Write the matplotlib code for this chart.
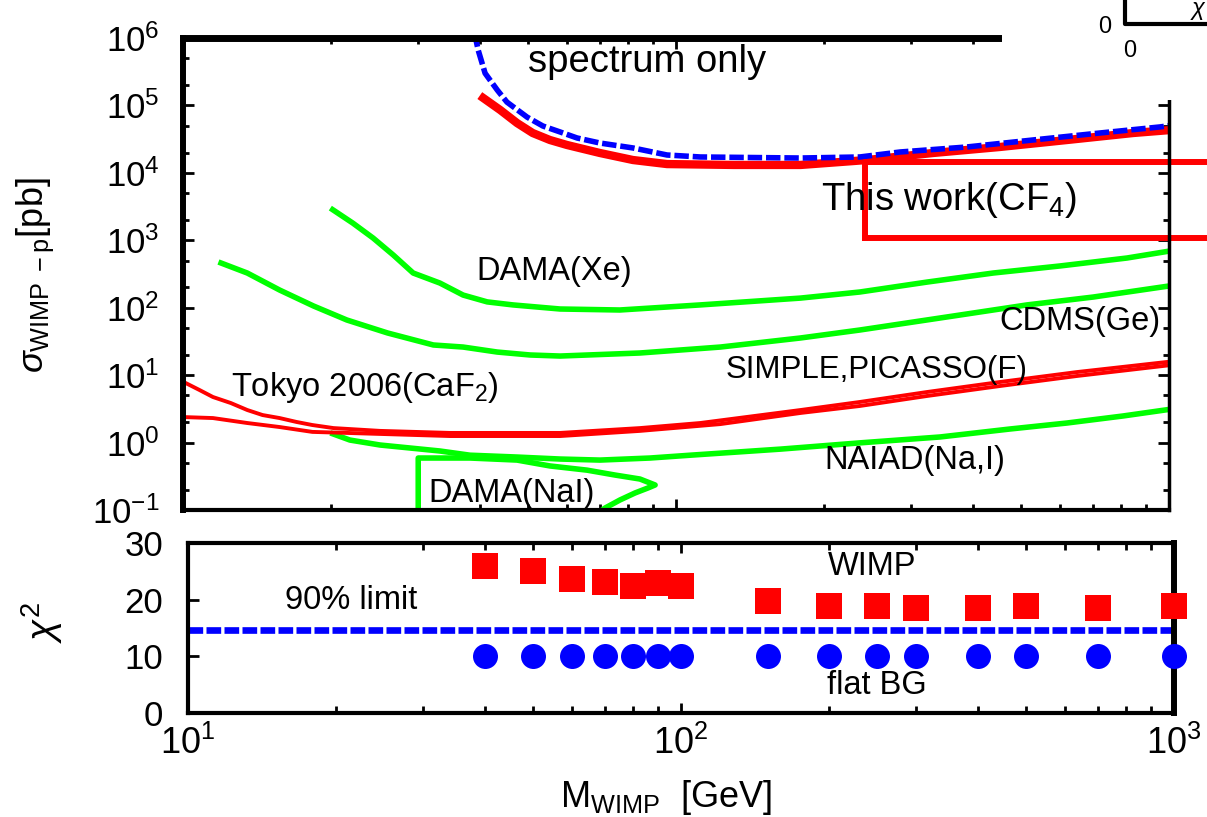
import numpy as np
import matplotlib.pyplot as plt
from matplotlib.patches import Rectangle
from matplotlib.lines import Line2D
from matplotlib.ticker import LogLocator, NullFormatter

plt.rcParams['font.family'] = ['Liberation Sans', 'DejaVu Sans']
plt.rcParams['mathtext.fontset'] = 'custom'
plt.rcParams['mathtext.rm'] = 'Liberation Sans'
plt.rcParams['mathtext.it'] = 'Liberation Sans:italic'
plt.rcParams['mathtext.bf'] = 'Liberation Sans:bold'

# ---- upper panel: cross-section limits (M in GeV, sigma in pb) ----
spec_m = [39.0, 39.7, 41.0, 43.4, 45.4, 49.9, 53.7, 58.2, 63.0, 70.1, 81.8, 95.9,
          112, 179, 236, 285, 389, 529, 724, 959, 1000]
spec_s = [1.2e6, 6.6e5, 3.0e5, 1.69e5, 1.12e5, 6.7e4, 4.95e4, 4.04e4, 3.29e4, 2.77e4,
          2.34e4, 1.84e4, 1.72e4, 1.66e4, 1.72e4, 2.04e4, 2.42e4, 3.07e4, 3.9e4, 4.8e4, 5.0e4]

cf4_m = [40.0, 44.0, 47.6, 51.2, 55.5, 60.1, 70.1, 81.8, 95.9, 131, 179, 244, 332,
         454, 621, 846, 1000]
cf4_s = [1.4e5, 8.55e4, 5.48e4, 3.9e4, 3.07e4, 2.59e4, 1.97e4, 1.55e4, 1.35e4, 1.31e4,
         1.31e4, 1.55e4, 1.97e4, 2.42e4, 3.07e4, 3.9e4, 4.3e4]

xe_m = [19.9, 22.1, 24.3, 26.7, 29.3, 33.2, 37.0, 41.4, 46.7, 58.2, 76.9, 112, 179,
        236, 323, 440, 601, 822, 1000]
xe_s = [3.0e3, 1.8e3, 1.08e3, 605, 327, 232, 154, 122, 110, 95.7, 92.5, 110, 139,
        171, 240, 327, 416, 546, 690]

cdms_m = [11.8, 13.5, 15.7, 18.4, 21.5, 26.0, 32.2, 37.0, 43.4, 50.6, 58.2, 84.5,
          123, 179, 236, 377, 515, 702, 1000]
cdms_s = [476, 327, 183, 106, 65.7, 42.2, 28.0, 26.1, 22.0, 19.9, 19.2, 21.3, 26.1,
          35.6, 46.7, 78, 110, 144, 210]

tokyo_m = [10, 10.8, 11.5, 12.5, 13.5, 14.5, 15.7, 17.0, 18.3, 20.2, 25.1, 34.8,
           58.2, 84.5, 112, 179, 236, 323, 454, 650, 1000]
tokyo_s = [8.0, 6.02, 4.74, 3.86, 3.04, 2.56, 2.31, 2.02, 1.82, 1.64, 1.49, 1.39,
           1.39, 1.64, 1.95, 3.04, 4.0, 5.62, 7.91, 11.1, 15.8]

simple_m = [10, 11.5, 13.5, 15.7, 18.3, 21.5, 34.8, 58.2, 84.5, 123, 179, 236, 323,
            454, 650, 1000]
simple_s = [2.39, 2.31, 1.95, 1.70, 1.44, 1.39, 1.25, 1.25, 1.49, 1.88, 2.75, 3.49,
            4.91, 6.90, 9.71, 14.0]

naiad_m = [19.9, 21.8, 25.1, 28.9, 33.2, 38.2, 47.6, 58.2, 70.1, 88.6, 107, 163,
           236, 343, 476, 621, 807, 1000]
naiad_s = [1.39, 1.09, 0.92, 0.83, 0.75, 0.65, 0.61, 0.57, 0.55, 0.59, 0.65, 0.80,
           0.99, 1.21, 1.59, 1.95, 2.48, 3.1]

damanai_m = [30.0, 30.0, 38.2, 47.6, 55.5, 66.0, 75.2, 84.5, 90.7, 87.7, 82.6, 77.0,
             71.8, 68.5]
damanai_s = [0.071, 0.59, 0.59, 0.55, 0.45, 0.39, 0.33, 0.288, 0.235, 0.212, 0.179,
             0.141, 0.107, 0.084]

box_m = [242, 3000]
box_s = [1.08e3, 1.45e4]

ytick_vals = [1e-1, 1e0, 1e1, 1e2, 1e3, 1e4, 1e5, 1e6]
ytick_text = [r'$10^{-1}$', r'$10^{0}$', r'$10^{1}$', r'$10^{2}$', r'$10^{3}$',
              r'$10^{4}$', r'$10^{5}$', r'$10^{6}$']

# ---- lower panel: chi^2 ----
chi_m = [40, 50, 60, 70, 80, 90, 100, 150, 200, 250, 300, 400, 500, 700, 1000]
chi_wimp = [25.9, 25.0, 23.7, 23.1, 22.5, 23.0, 22.5, 19.7, 18.8, 18.8, 18.5, 18.5,
            18.8, 18.5, 18.8]
chi_flat = [10.0] * len(chi_m)
chi_limit = 14.6

xtick_vals = [10, 100, 1000]
xtick_text = [r'$10^{1}$', r'$10^{2}$', r'$10^{3}$']

W, H = 1207, 817
fig = plt.figure(figsize=(W / 100, H / 100), dpi=100)


def rect(x0, y0, x1, y1):
    return [x0 / W, 1 - y1 / H, (x1 - x0) / W, (y1 - y0) / H]


ax = fig.add_axes(rect(183, 38, 1169, 510))
ax2 = fig.add_axes(rect(188, 543, 1174, 713))

GREEN = '#00ff00'
RED = '#ff0000'
BLUE = '#0000ff'

# upper panel
ax.set_xscale('log')
ax.set_yscale('log')
ax.plot(xe_m, xe_s, color=GREEN, lw=4, solid_capstyle='butt')
ax.plot(cdms_m, cdms_s, color=GREEN, lw=4, solid_capstyle='butt')
ax.plot(naiad_m, naiad_s, color=GREEN, lw=4, solid_capstyle='butt')
ax.plot(damanai_m, damanai_s, color=GREEN, lw=4, solid_capstyle='butt')
ax.plot(tokyo_m, tokyo_s, color=RED, lw=2.8)
ax.plot(simple_m, simple_s, color=RED, lw=2.8)
ax.plot(cf4_m, cf4_s, color=RED, lw=6, solid_capstyle='butt')
ax.plot(spec_m, spec_s, color=BLUE, lw=4, dashes=(2.6, 0.7), dash_capstyle='butt')
ax.plot([box_m[0], box_m[1], box_m[1], box_m[0], box_m[0]],
        [box_s[0], box_s[0], box_s[1], box_s[1], box_s[0]],
        color=RED, lw=4.3, clip_on=False)

ax.set_xlim(10, 1000)
ax.set_ylim(0.1, 1e6)
ax.set_yticks(ytick_vals)
ax.set_yticklabels(ytick_text, fontsize=25)
ax.yaxis.set_minor_locator(LogLocator(base=10, subs=(2.0, 5.0), numticks=20))
ax.yaxis.set_minor_formatter(NullFormatter())
ax.set_xticks(xtick_vals)
ax.xaxis.set_minor_locator(LogLocator(base=10, subs=np.arange(2, 10), numticks=20))
ax.xaxis.set_minor_formatter(NullFormatter())
ax.tick_params(which='both', direction='in', top=True, right=True, labelbottom=False)
ax.tick_params(which='major', length=8, width=2, pad=17)
ax.tick_params(which='minor', length=4, width=2)
for side, w in zip(['left', 'top', 'bottom', 'right'], [4.3, 5, 3, 2.5]):
    ax.spines[side].set_linewidth(w)

tkw = dict(fontsize=23.5, va='center', ha='left')
ax.text(50.1, 4.4e5, 'spectrum only', fontsize=27.5, va='center', ha='left')
ax.text(197, 3.95e3, r'This work(CF$_4$)', fontsize=27.5, va='center', ha='left')
ax.text(39.3, 339, 'DAMA(Xe)', **tkw)
ax.text(959, 63.5, 'CDMS(Ge)', fontsize=23.5, va='center', ha='right')
ax.text(126, 11.9, 'SIMPLE,PICASSO(F)', fontsize=22.5, va='center', ha='left')
ax.text(12.5, 6.67, r'Tokyo 2006(CaF$_2$)', **tkw)
ax.text(200, 0.533, 'NAIAD(Na,I)', **tkw)
ax.text(31.4, 0.173, 'DAMA(NaI)', **tkw)

# lower panel
ax2.set_xscale('log')
ax2.axhline(chi_limit, color=BLUE, lw=4.8, dashes=(2.2, 0.5), dash_capstyle='butt', zorder=1)
ax2.plot(chi_m, chi_wimp, 's', color=RED, ms=18.5, mew=0, clip_on=False, zorder=3)
ax2.plot(chi_m, chi_flat, 'o', color=BLUE, ms=18, mew=0, clip_on=False, zorder=3)
ax2.set_xlim(10, 1000)
ax2.set_ylim(0, 30)
ax2.set_yticks([0, 10, 20, 30])
ax2.set_yticklabels(['0', '10', '20', '30'], fontsize=25)
ax2.set_xticks(xtick_vals)
ax2.set_xticklabels(xtick_text, fontsize=26)
ax2.xaxis.set_minor_locator(LogLocator(base=10, subs=np.arange(2, 10), numticks=20))
ax2.xaxis.set_minor_formatter(NullFormatter())
ax2.tick_params(which='both', direction='in', top=True)
ax2.tick_params(axis='y', which='major', length=8, width=2, pad=18)
ax2.tick_params(axis='x', which='major', length=7, width=2, pad=9)
ax2.tick_params(axis='x', which='minor', length=5, width=2)
for side, w in zip(['left', 'top', 'bottom', 'right'], [3, 3, 3, 4.3]):
    ax2.spines[side].set_linewidth(w)

ax2.text(15.7, 19.9, '90% limit', fontsize=23.5, va='center', ha='left')
ax2.text(199, 25.8, 'WIMP', fontsize=23.5, va='center', ha='left')
ax2.text(198, 4.8, 'flat BG', fontsize=23.5, va='center', ha='left')

# axis titles
fig.text(35 / W, 1 - 275 / H, r'$\sigma_{\rm WIMP\ -p}$[pb]', rotation=90,
         fontsize=26, ha='center', va='center')
fig.text(42 / W, 1 - 622 / H, r'$\chi^2$', rotation=90, fontsize=28,
         ha='center', va='center')
fig.text(560 / W, 1 - 807 / H, r'M$_{\rm WIMP}$  [GeV]', fontsize=26,
         ha='left', va='baseline')

# white cover over top-right corner, with a fragment of an inset frame
fig.add_artist(Rectangle((1002 / W, 1 - 100 / H), (W - 1002) / W, 100 / H,
                         transform=fig.transFigure, facecolor='white',
                         edgecolor='none', zorder=10))
fig.add_artist(Line2D([1125 / W, 1125 / W, 1.0], [1.0, 1 - 24 / H, 1 - 24 / H],
                      transform=fig.transFigure, color='black', lw=3, zorder=11))
fig.text(1105 / W, 1 - 27 / H, '0', fontsize=17, ha='center', va='center', zorder=11)
fig.text(1130 / W, 1 - 51 / H, '0', fontsize=17, ha='center', va='center', zorder=11)
fig.text(1190 / W, 1 - 11 / H, r'$\chi$', fontsize=17, ha='left', va='center', zorder=11)

fig.savefig('out.png', dpi=100)
